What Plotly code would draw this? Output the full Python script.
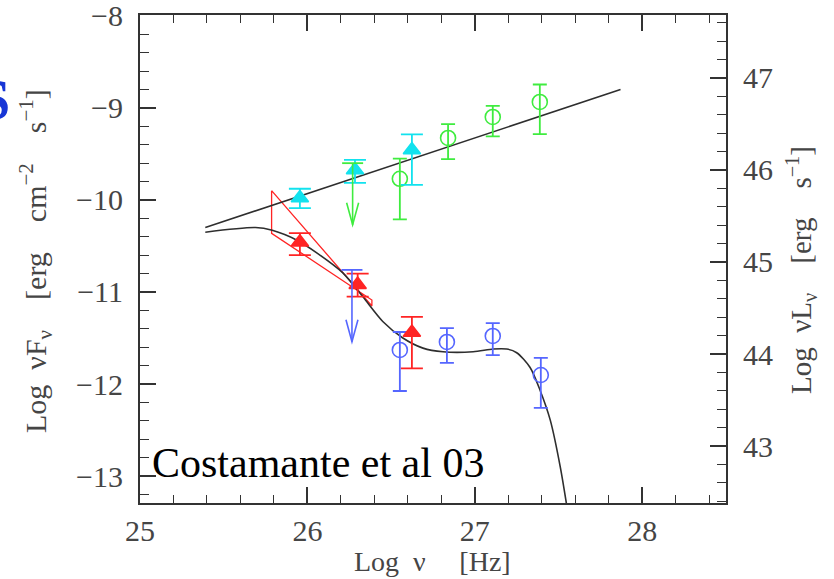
import plotly.graph_objects as go

# ---------------- data ----------------
# synchrotron-self-Compton model curve (log nu, log nuFnu)
model_x = [25.39, 25.69, 25.79, 25.94, 26.06, 26.21, 26.33, 26.45, 26.57, 26.69,
           26.81, 26.99, 27.11, 27.19, 27.25, 27.33, 27.39, 27.45, 27.51, 27.56]
model_y = [-10.35, -10.30, -10.33, -10.44, -10.58, -10.79, -11.05, -11.32, -11.50, -11.61,
           -11.65, -11.65, -11.62, -11.62, -11.66, -11.82, -12.07, -12.39, -12.90, -13.45]

# intrinsic (de-absorbed) power law
pl_x = [25.39, 27.87]
pl_y = [-10.30, -8.80]

# bow-tie (spectral slope uncertainty)
bow_x = [25.786, 26.385, 26.385, 25.786, 25.786]
bow_y = [-9.899, -11.152, -11.087, -10.362, -9.899]

# observed points, filled triangles (red) and de-absorbed (cyan)
red_x = [25.955, 26.300, 26.624]
red_y = [-10.46, -10.92, -11.44]
red_up = [0.10, 0.12, 0.17]
red_dn = [0.14, 0.13, 0.39]

cyan_x = [25.955, 26.284, 26.624]
cyan_y = [-9.978, -9.674, -9.457]
cyan_up = [0.10, 0.11, 0.17]
cyan_dn = [0.11, 0.14, 0.38]

# open circles: observed (blue) and de-absorbed (green)
blue_x = [26.552, 26.833, 27.107, 27.394]
blue_y = [-11.63, -11.543, -11.478, -11.902]
blue_up = [0.195, 0.15, 0.14, 0.185]
blue_dn = [0.446, 0.227, 0.207, 0.358]

green_x = [26.552, 26.840, 27.107, 27.388]
green_y = [-9.770, -9.326, -9.098, -8.935]
green_up = [0.22, 0.15, 0.12, 0.19]
green_dn = [0.44, 0.23, 0.21, 0.35]

# upper limits: x, top (cap), arrow tip
ul_blue = (26.266, -10.76, -11.54)
ul_green = (26.270, -9.60, -10.27)

# axes
x_range = [25.0, 28.5]
y_range = [-13.293, -7.99]
lum_offset = 55.674          # log nuL = log nuFnu + offset
x_ticks = [25, 26, 27, 28]
y_ticks = [-8, -9, -10, -11, -12, -13]
y2_ticks = [43, 44, 45, 46, 47]

RED = "#ff2424"
CYAN = "#12e2ee"
GREEN = "#3fec3f"
BLUE = "#5566ff"
BLACK = "#2e2e2e"
AXC = "#333333"
TXT = "#454545"
FONT = "Liberation Serif"

fig = go.Figure()

fig.add_trace(go.Scatter(x=bow_x, y=bow_y, mode="lines",
                         line=dict(color=RED, width=1.3), hoverinfo="skip"))
fig.add_trace(go.Scatter(x=pl_x, y=pl_y, mode="lines",
                         line=dict(color=BLACK, width=1.6)))
fig.add_trace(go.Scatter(x=model_x, y=model_y, mode="lines",
                         line=dict(color=BLACK, width=1.6, shape="spline", smoothing=0.8)))

def pts(x, y, up, dn, color, symbol, size, capw):
    return go.Scatter(
        x=x, y=y, mode="markers",
        marker=dict(symbol=symbol, size=size, color=color,
                    line=dict(color=color, width=1.6)),
        error_y=dict(type="data", symmetric=False, array=up, arrayminus=dn,
                     color=color, thickness=1.8, width=capw))

fig.add_trace(pts(green_x, green_y, green_up, green_dn, GREEN, "circle-open", 15, 7))
fig.add_trace(pts(blue_x, blue_y, blue_up, blue_dn, BLUE, "circle-open", 15, 7))
fig.add_trace(pts(cyan_x, cyan_y, cyan_up, cyan_dn, CYAN, "triangle-up", 15, 11))
fig.add_trace(pts(red_x, red_y, red_up, red_dn, RED, "triangle-up", 15, 11))

shapes = []
for (ux, utop, utip), col in [(ul_green, GREEN), (ul_blue, BLUE)]:
    fig.add_trace(go.Scatter(x=[ux, ux], y=[utop, utip], mode="lines",
                             line=dict(color=col, width=1.6)))
    fig.add_trace(go.Scatter(x=[ux], y=[utop], mode="markers",
                             marker=dict(symbol="line-ew", size=15,
                                         line=dict(color=col, width=1.8))))
    shapes.append(dict(type="path", xref="x", yref="y",
                       xsizemode="pixel", ysizemode="pixel",
                       xanchor=ux, yanchor=utip,
                       path="M-6,22 L0,0 L6,22",
                       line=dict(color=col, width=1.6)))

# invisible trace so the luminosity axis is tied in
fig.add_trace(go.Scatter(x=[None], y=[None], yaxis="y2", mode="markers",
                         hoverinfo="skip"))

tickfont = dict(family=FONT, size=30, color=TXT)
common = dict(showline=True, linecolor=AXC, linewidth=2, ticks="inside",
              tickcolor=AXC, tickwidth=1.6, ticklen=16, showgrid=False,
              zeroline=False, tickfont=tickfont, automargin=False,
              ticklabeloverflow="allow")

fig.update_layout(
    width=834, height=579,
    margin=dict(l=140, r=108, t=15, b=76, autoexpand=False),
    paper_bgcolor="white", plot_bgcolor="white",
    showlegend=False,
    font=dict(family=FONT, color=TXT),
    shapes=shapes,
    xaxis=dict(range=x_range, tickvals=x_ticks, mirror="ticks",
               ticklabelstandoff=0,
               minor=dict(ticks="inside", dtick=0.2, tick0=25, ticklen=8,
                          tickcolor=AXC, tickwidth=1.4),
               **common),
    yaxis=dict(range=y_range, tickvals=y_ticks, ticklabelstandoff=9,
               minor=dict(ticks="inside", dtick=0.2, tick0=-8, ticklen=9,
                          tickcolor=AXC, tickwidth=1.4),
               **common),
    yaxis2=dict(range=[y_range[0] + lum_offset, y_range[1] + lum_offset],
                tickvals=y2_ticks, overlaying="y", side="right",
                ticklabelstandoff=9,
                minor=dict(ticks="inside", dtick=0.2, tick0=43, ticklen=9,
                           tickcolor=AXC, tickwidth=1.4),
                **common),
)

def px_x(p):
    return (p - 140) / 586.0

def px_y(p):
    return (503 - p) / 488.0

ann_font = dict(family=FONT, size=29, color=TXT)
fig.add_annotation(xref="paper", yref="paper", x=px_x(35), y=px_y(261),
                   text="Log\u2002\u03bdF<sub>\u03bd</sub>\u2003[erg\u2003cm<sup>\u22122</sup>\u2003s<sup>\u22121</sup>]",
                   textangle=-90, showarrow=False, font=dict(family=FONT, size=30, color=TXT),
                   xanchor="center", yanchor="middle")
fig.add_annotation(xref="paper", yref="paper", x=px_x(801), y=px_y(270),
                   text="Log\u2002\u03bdL<sub>\u03bd</sub>\u2003[erg\u2003s<sup>\u22121</sup>]",
                   textangle=-90, showarrow=False, font=ann_font,
                   xanchor="center", yanchor="middle")
fig.add_annotation(xref="paper", yref="paper", x=px_x(432), y=px_y(561),
                   text="Log\u2002\u03bd\u2003\u2009[Hz]",
                   showarrow=False, font=dict(family=FONT, size=28, color=TXT),
                   xanchor="center", yanchor="middle")
fig.add_annotation(xref="paper", yref="paper", x=px_x(150), y=px_y(463),
                   text="Costamante et al 03", showarrow=False,
                   font=dict(family=FONT, size=42, color="black"),
                   xanchor="left", yanchor="middle")
fig.add_annotation(xref="paper", yref="paper", x=px_x(12), y=px_y(100),
                   text="<b>S</b>", showarrow=False,
                   font=dict(family=FONT, size=56, color="#1736d6"),
                   xanchor="right", yanchor="middle")

fig.write_html("out.html", config={"displayModeBar": False},
               post_script="document.body.style.margin='0px';")
